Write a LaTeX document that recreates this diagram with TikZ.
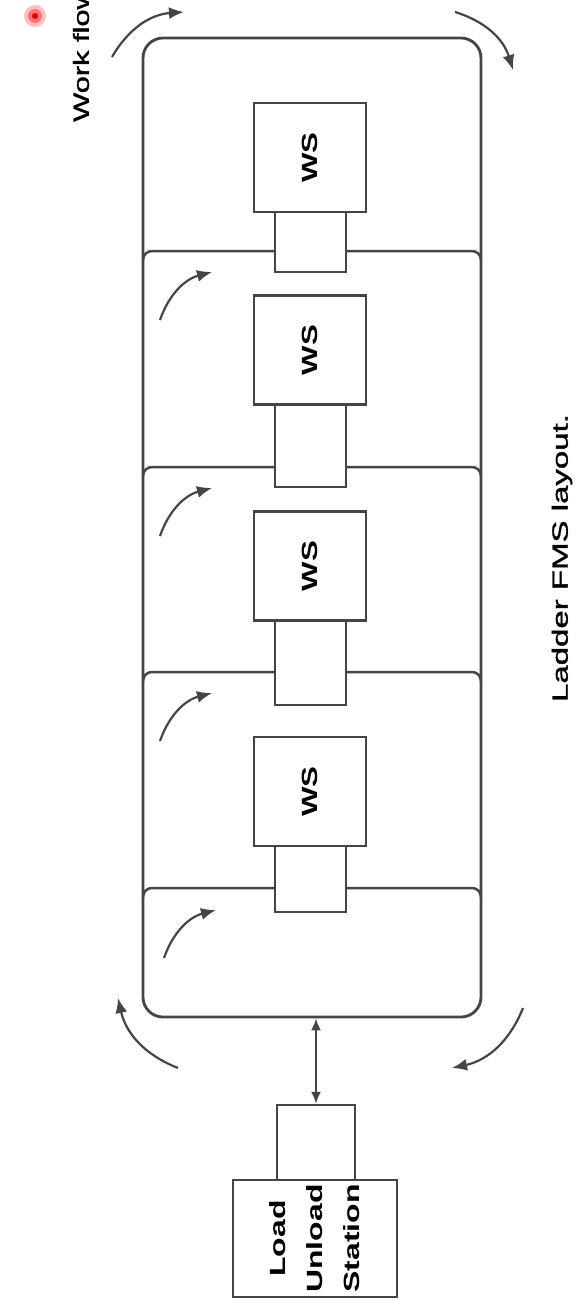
\documentclass[tikz,border=0pt]{standalone}
\usepackage{fontspec}
\setmainfont{Liberation Sans}
\newfontfamily\capfam{Liberation Sans}[FakeBold=1.2]
\usetikzlibrary{arrows.meta}
\definecolor{ink}{HTML}{454545}
\begin{document}
\begin{tikzpicture}[x=1pt,y=1pt,
  box/.style={draw=ink, line width=2.5pt, fill=white, inner sep=0pt},
  rung/.style={draw=ink, line width=2.5pt},
  flowarrow/.style={draw=ink, line width=2.2pt, -{Latex[length=15pt,width=12pt]}, bend left=28},
  dblarrow/.style={draw=ink, line width=1.8pt, {Latex[length=12pt,width=10pt]}-{Latex[length=12pt,width=10pt]}},
  wsfont/.style={font=\fontsize{22}{22}\selectfont\bfseries},
  capfont/.style={font=\fontsize{22}{22}\selectfont\capfam}]
\useasboundingbox (0,0) rectangle (578,-1310);
\fill[white] (0,0) rectangle (578,-1310);

% outer loop
\node[draw=ink, line width=2.8pt, rounded corners=20pt, minimum width=338pt, minimum height=979pt, inner sep=0pt] (ladder) at (312,-527.5) {};

% rungs
\foreach \y in {251,467,672,888}
  \draw[rung] (143,-\y-9) to[out=90,in=180] (152,-\y) -- (472,-\y) to[out=0,in=90] (481,-\y-9);

% work stations
\node[box, minimum width=71pt, minimum height=60pt] (s1) at (310.5,-242) {};
\node[box, minimum width=71pt, minimum height=82pt] (s2) at (310.5,-446) {};
\node[box, minimum width=71pt, minimum height=85pt] (s3) at (310.5,-662.5) {};
\node[box, minimum width=71pt, minimum height=66pt] (s4) at (310.5,-879) {};
\node[box, wsfont, minimum width=112pt, minimum height=109pt] (w1) at (310,-157.5) {\rotatebox{90}{\scalebox{1.42}[1]{WS}}};
\node[box, wsfont, minimum width=112pt, minimum height=109pt] (w2) at (310,-350) {\rotatebox{90}{\scalebox{1.42}[1]{WS}}};
\node[box, wsfont, minimum width=112pt, minimum height=109pt] (w3) at (310,-566) {\rotatebox{90}{\scalebox{1.42}[1]{WS}}};
\node[box, wsfont, minimum width=112pt, minimum height=109pt] (w4) at (310,-791.5) {\rotatebox{90}{\scalebox{1.42}[1]{WS}}};

% load / unload station
\node[box, minimum width=78pt, minimum height=75pt] (ls) at (316,-1142.5) {};
\node[box, minimum width=164pt, minimum height=117pt, font=\fontsize{22}{37}\selectfont\bfseries] (lu) at (315,-1238.5)
  {\rotatebox{90}{\scalebox{1.45}[1]{\begin{tabular}{@{}c@{}}Load\\Unload\\Station\end{tabular}}}};
\draw[dblarrow] (ls.north |- ladder.south) -- (ls.north);

% cell arrows
\coordinate (a1s) at (160,-320); \coordinate (a1e) at (212,-272);
\coordinate (a2s) at (160,-536); \coordinate (a2e) at (212,-488);
\coordinate (a3s) at (160,-741); \coordinate (a3e) at (212,-693);
\coordinate (a4s) at (164,-958); \coordinate (a4e) at (216,-910);
\foreach \i in {1,2,3,4} \draw[flowarrow] (a\i s) to (a\i e);

% corner arrows
\coordinate (tls) at (112,-57);  \coordinate (tle) at (184,-12);
\coordinate (trs) at (455,-12);  \coordinate (tre) at (513,-70);
\coordinate (brs) at (523,-1008); \coordinate (bre) at (452,-1068);
\coordinate (bls) at (178,-1068); \coordinate (ble) at (118,-998);
\draw[flowarrow] (tls) to (tle);
\draw[flowarrow] (trs) to (tre);
\draw[flowarrow] (brs) to (bre);
\draw[flowarrow] (bls) to (ble);

% labels
\node[capfont, rotate=90, anchor=west, inner sep=0pt] (wf) at (81,-122) {\scalebox{1.4}[1]{Work flow}};
\node[capfont, rotate=90, inner sep=0pt] (cap) at (562,-558) {\scalebox{1.5}[1]{Ladder FMS layout.}};

% red marker
\fill[red!25] (35,-16) circle (11pt);
\fill[red!55] (35,-16) circle (7pt);
\fill[red!85!black] (35,-16) circle (3pt);
\end{tikzpicture}
\end{document}
